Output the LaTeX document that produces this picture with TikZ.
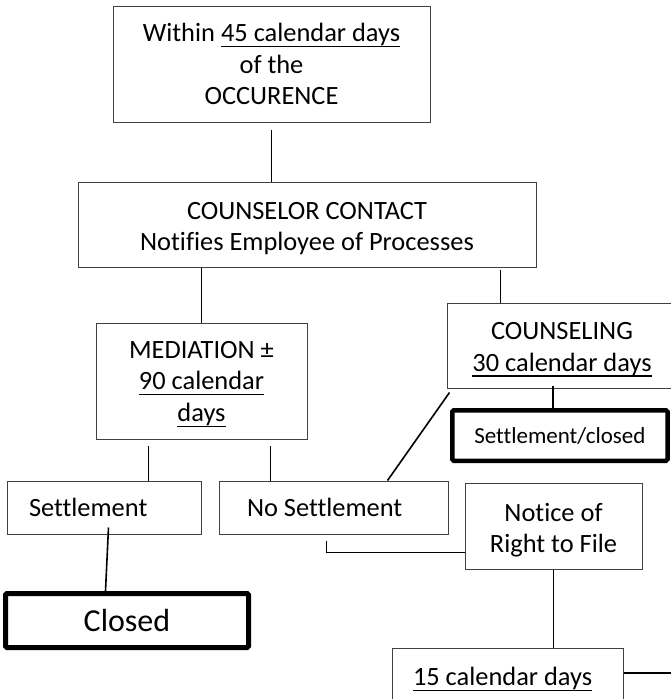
\documentclass[tikz,border=0pt]{standalone}
\usepackage{fontspec}
\setmainfont{Carlito}[Ligatures=NoCommon]
\usetikzlibrary{calc}
\newcommand\ulx[1]{\setbox0\hbox{#1}\rlap{\rule[-5.5pt]{\wd0}{1.3pt}}\box0}
\newcommand\lift[1]{\rule{0pt}{#1}}
\tikzset{
  box/.style={draw=black!75, line width=1pt, inner sep=0pt, align=center,
    font=\fontsize{26.4}{31.7}\selectfont},
  thickbox/.style={draw=black, line width=4.5pt, rounded corners=1.5pt, inner sep=0pt, align=center},
  link/.style={draw=black, line width=1.8pt},
}
\begin{document}
\begin{tikzpicture}[x=1pt,y=-1pt]
\useasboundingbox (0,0) rectangle (670,699);
\fill[white] (0,0) rectangle (670,699);

\node[box, minimum width=317pt, minimum height=116pt] (top) at (271.5,64)
  {Within \ulx{45 calendar days}\\ of the\\ OCCURENCE};
\node[box, minimum width=458pt, minimum height=85pt] (contact) at (307,224.5)
  {\lift{25pt}COUNSELOR CONTACT\\ Notifies Employee of Processes};
\node[box, minimum width=211pt, minimum height=116pt] (med) at (201.5,381)
  {\lift{23pt}MEDIATION ±\\ \ulx{90 calendar}\\ \ulx{days}};
\node[box, minimum width=230pt, minimum height=85pt] (couns) at (562,345.5)
  {\lift{25pt}COUNSELING\\ \ulx{30 calendar days}};
\node[thickbox, minimum width=215.25pt, minimum height=50.5pt,
  font=\fontsize{23}{28}\selectfont] (sc) at (559.9,435.5) {Settlement/closed};
\node[box, minimum width=194pt, minimum height=53pt] (set) at (104,507.5)
  {\makebox[150pt][l]{Settlement}};
\node[box, minimum width=229pt, minimum height=53pt] (ns) at (333.5,507.5)
  {\makebox[173pt][l]{No Settlement}};
\node[box, minimum width=177pt, minimum height=86pt] (notice) at (553.5,526)
  {\lift{26.5pt}Notice of\\ Right to File};
\node[thickbox, line width=5pt, minimum width=243pt, minimum height=54pt,
  font=\fontsize{32}{38}\selectfont] (closed) at (127,620.5) {Closed};
\node[box, minimum width=231pt, minimum height=57pt] (ff) at (507.5,676.5)
  {\makebox[189pt][l]{\lift{23.5pt}\ulx{15 calendar days}}};
\coordinate (offR) at (690,673);

\draw[link] ([yshift=-7pt]top.south) -- (top.south |- contact.north);
\draw[link] (med.north) -- (med.north |- contact.south);
\draw[link] ($(couns.north west)+(54,0)$) -- ($(couns.north west)+(54,-33)$);
\draw[link] ($(sc.north)+(-7,0)$) -- ++(0,-22);
\draw[link] ($(set.north west)+(142,0)$) -- ++(0,-35);
\draw[link] ($(ns.north west)+(52,0)$) -- ++(0,-35);
\draw[link, line width=1.6pt] ($(couns.south west)+(3,4)$) -- ($(ns.north east)+(-61,0)$);
\draw[link] ($(ns.south west)+(108,6)$) |- ($(notice.south west)+(0,-17)$);
\draw[link, line width=1.6pt] ($(set.south west)+(102,-7)$) -- ($(closed.north west)+(102.5,0)$);
\draw[link] (notice.south) -- (notice.south |- ff.north);
\draw[link] (ff.east |- offR) -- (offR);
\end{tikzpicture}
\end{document}
